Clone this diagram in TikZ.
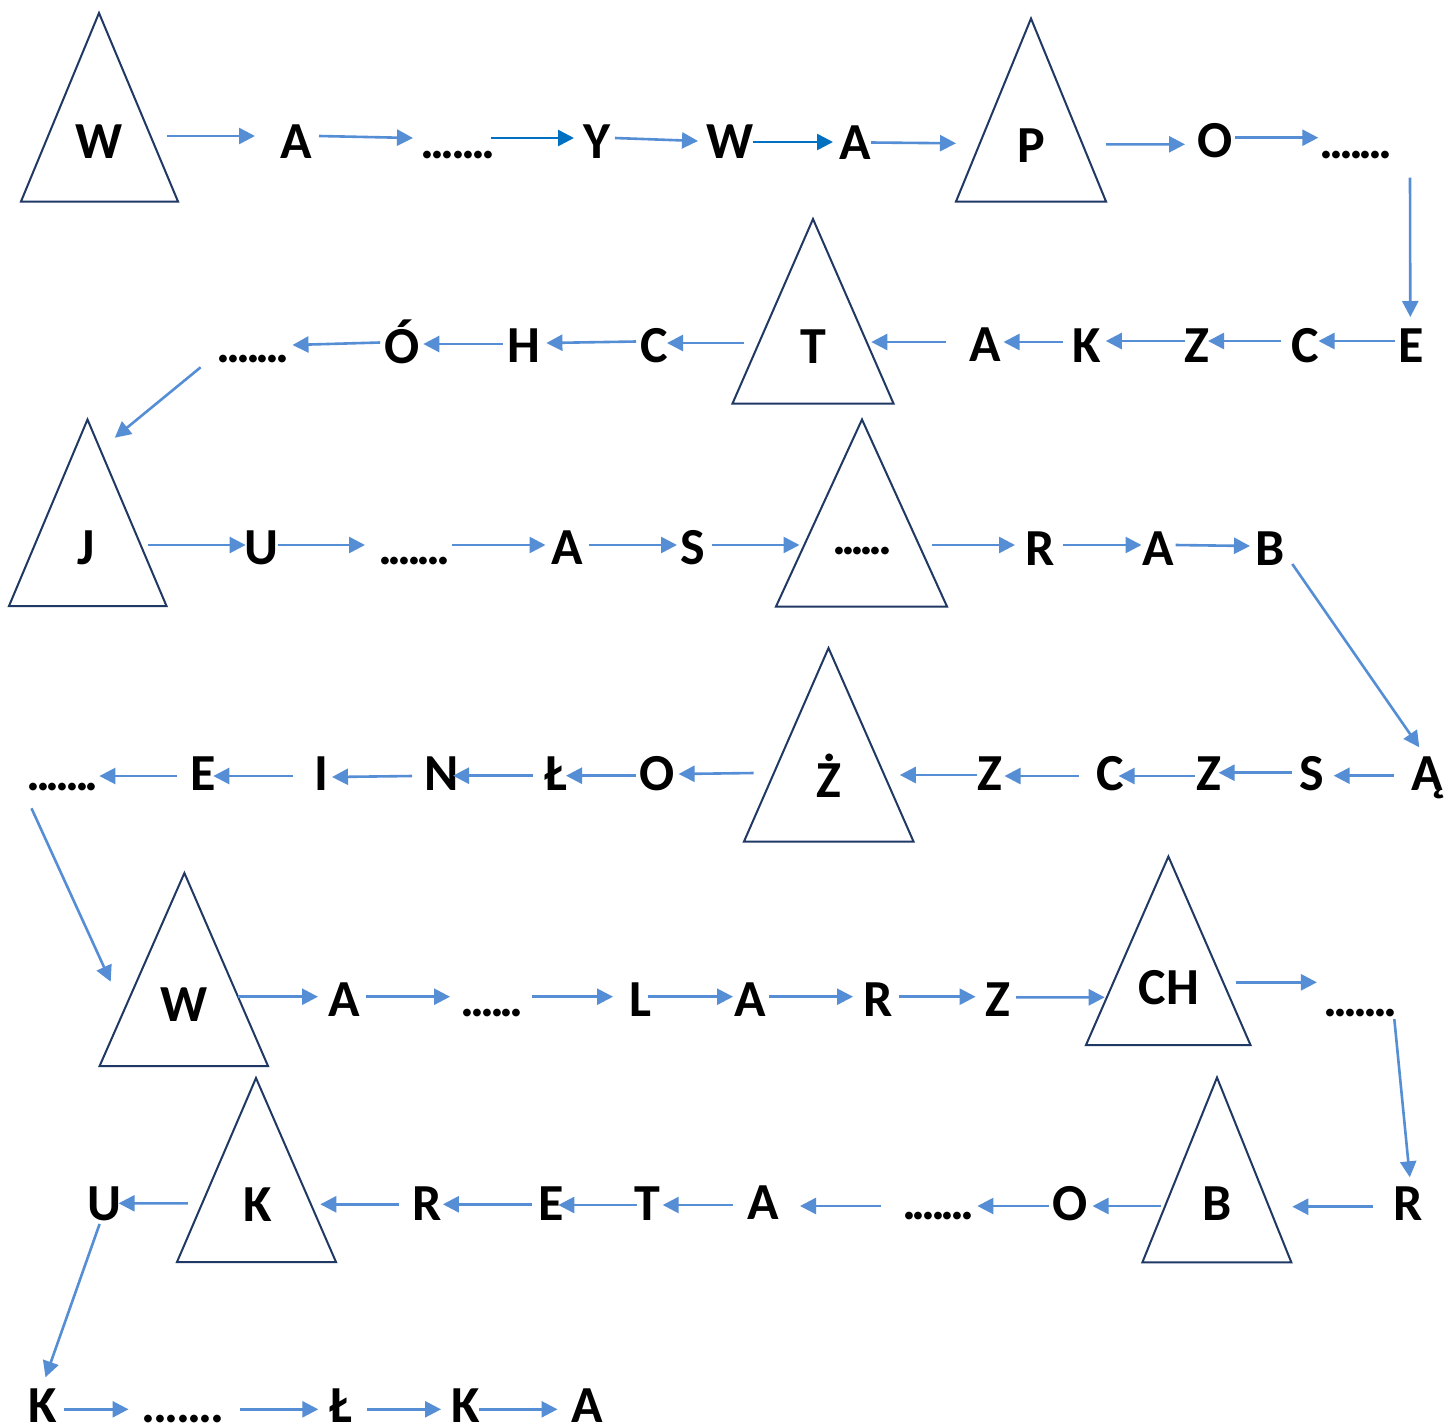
\documentclass[tikz,border=0pt]{standalone}
\usepackage{fontspec}
\setmainfont{Carlito}
\usetikzlibrary{arrows.meta}
\definecolor{arrowblue}{HTML}{558ED5}
\definecolor{darkarrow}{HTML}{0070C0}
\definecolor{trinavy}{HTML}{1F3864}
\newcommand\sevdots[1]{\hbox to #1{.\hss.\hss.\hss.\hss.\hss.\hss.}}
\newcommand\sixdots[1]{\hbox to #1{.\hss.\hss.\hss.\hss.\hss.}}
\begin{document}
\begin{tikzpicture}[x=0.5pt,y=-0.5pt,
  lbl/.style={inner sep=0pt, outer sep=0pt, text height=17pt, text depth=0pt, font=\fontsize{26}{28}\selectfont\bfseries},
  arr/.style={draw=arrowblue, line width=1.3pt, -{Triangle[length=8pt,width=8pt]}},
  darr/.style={arr, draw=darkarrow},
  tri/.style={draw=trinavy, line width=1pt, line join=miter}]
\fill[white] (0,0) rectangle (1446,1425);
\useasboundingbox (0,0) rectangle (1446,1425);

% ---------- triangles ----------
\coordinate (W1a) at (99,13);      \coordinate (W1b) at (178,201.5);   \coordinate (W1c) at (21,201.5);
\coordinate (Pa) at (1031,18.5);   \coordinate (Pb) at (1106,201.5);   \coordinate (Pc) at (956,201.5);
\coordinate (Ta) at (813,219);     \coordinate (Tb) at (893.5,403.5);  \coordinate (Tc) at (732.5,403.5);
\coordinate (Ja) at (87.5,419.5);  \coordinate (Jb) at (166.5,606);    \coordinate (Jc) at (9,606);
\coordinate (Da) at (862,419.5);   \coordinate (Db) at (947,606.5);    \coordinate (Dc) at (776,606.5);
\coordinate (Za) at (828.5,648);   \coordinate (Zb) at (913.5,841.5);  \coordinate (Zc) at (744,841.5);
\coordinate (W2a) at (184.4,873);  \coordinate (W2b) at (268,1066);    \coordinate (W2c) at (99.6,1066);
\coordinate (CHa) at (1168.4,856.5); \coordinate (CHb) at (1250.5,1045); \coordinate (CHc) at (1086,1045);
\coordinate (Ba) at (1217,1077.5); \coordinate (Bb) at (1291.3,1262.3); \coordinate (Bc) at (1142.4,1262.3);
\coordinate (Ka) at (256,1078);    \coordinate (Kb) at (336,1262);     \coordinate (Kc) at (177,1262);
\draw[tri] (W1a) -- (W1b) -- (W1c) -- cycle;
\draw[tri] (Pa) -- (Pb) -- (Pc) -- cycle;
\draw[tri] (Ta) -- (Tb) -- (Tc) -- cycle;
\draw[tri] (Ja) -- (Jb) -- (Jc) -- cycle;
\draw[tri] (Da) -- (Db) -- (Dc) -- cycle;
\draw[tri] (Za) -- (Zb) -- (Zc) -- cycle;
\draw[tri] (W2a) -- (W2b) -- (W2c) -- cycle;
\draw[tri] (CHa) -- (CHb) -- (CHc) -- cycle;
\draw[tri] (Ba) -- (Bb) -- (Bc) -- cycle;
\draw[tri] (Ka) -- (Kb) -- (Kc) -- cycle;

% ---------- row 1 ----------
\node[lbl] (trW1) at (99.5,141) {W};
\node[lbl] (r1A)  at (296,141) {A};
\node[lbl] (r1d)  at (458,141) {\sevdots{37.7pt}};
\node[lbl] (r1Y)  at (597,141) {Y};
\node[lbl] (r1W)  at (730,141) {W};
\node[lbl] (r1A2) at (855,142) {A};
\node[lbl] (trP)  at (1031.5,145) {P};
\node[lbl] (r1O)  at (1215,140) {O};
\node[lbl] (r1d2) at (1356,141) {\sevdots{36.4pt}};
% ---------- row 2 ----------
\node[lbl] (r2E)  at (1411,345) {E};
\node[lbl] (r2C)  at (1305,345) {C};
\node[lbl] (r2Z)  at (1196.6,345) {Z};
\node[lbl] (r2K)  at (1086.6,345) {K};
\node[lbl] (r2A)  at (985,344) {A};
\node[lbl] (trT)  at (813,346) {T};
\node[lbl] (r2C2) at (654,345) {C};
\node[lbl] (r2H)  at (524,345) {H};
\node[lbl] (r2O)  at (402,346) {Ó};
\node[lbl] (r2d)  at (253,345) {\sevdots{36.5pt}};
% ---------- row 3 ----------
\node[lbl] (trJ)  at (86,547) {J};
\node[lbl] (r3U)  at (261,547) {U};
\node[lbl] (r3d)  at (414,547) {\sevdots{36pt}};
\node[lbl] (r3A)  at (567.5,547) {A};
\node[lbl] (r3S)  at (693,547) {S};
\node[lbl] (trD)  at (862,537) {\sixdots{30pt}};
\node[lbl] (r3R)  at (1040,548) {R};
\node[lbl] (r3A2) at (1158,548) {A};
\node[lbl] (r3B)  at (1270,548) {B};
% ---------- row 4 ----------
\node[lbl] (r4A)  at (1427,773) {Ą};
\node[lbl] (r4S)  at (1312,773) {S};
\node[lbl] (r4Z)  at (1209,773) {Z};
\node[lbl] (r4C)  at (1110,773) {C};
\node[lbl] (r4Z2) at (990,773) {Z};
\node[lbl] (trZ)  at (829,780) {Ż};
\node[lbl] (r4O)  at (657.5,773) {O};
\node[lbl] (r4L)  at (556,773) {Ł};
\node[lbl] (r4N)  at (442,773) {N};
\node[lbl] (r4I)  at (321,773) {I};
\node[lbl] (r4E)  at (203.5,773) {E};
\node[lbl] (r4d)  at (62.5,773) {\sevdots{36.2pt}};
% ---------- row 5 ----------
\node[lbl] (trW2) at (184.5,1004) {W};
\node[lbl] (r5A)  at (344.5,999) {A};
\node[lbl] (r5d)  at (492,999) {\sixdots{31.7pt}};
\node[lbl] (r5L)  at (640,999) {L};
\node[lbl] (r5A2) at (750,999) {A};
\node[lbl] (r5R)  at (878,999) {R};
\node[lbl] (r5Z)  at (998,999) {Z};
\node[lbl] (trCH) at (1169,987) {CH};
\node[lbl] (r5d2) at (1360,999) {\sevdots{36.9pt}};
% ---------- row 6 ----------
\node[lbl] (r6R)  at (1407.7,1203) {R};
\node[lbl] (trB)  at (1217.4,1203) {B};
\node[lbl] (r6O)  at (1070,1203) {O};
\node[lbl] (r6d)  at (938,1202) {\sevdots{35.9pt}};
\node[lbl] (r6A)  at (763,1202) {A};
\node[lbl] (r6T)  at (647,1203) {T};
\node[lbl] (r6E)  at (551,1203) {E};
\node[lbl] (r6R2) at (427.5,1203) {R};
\node[lbl] (trK)  at (257.7,1204) {K};
\node[lbl] (r6U)  at (104.4,1203) {U};
% ---------- row 7 ----------
\node[lbl] (r7K)  at (42.5,1405) {K};
\node[lbl] (r7d)  at (183,1405) {\sevdots{41.3pt}};
\node[lbl] (r7L)  at (341,1405) {Ł};
\node[lbl] (r7K2) at (466,1405) {K};
\node[lbl] (r7A)  at (587,1405) {A};

% ---------- connectors row 1 ----------
\draw[arr]  ([shift={(67.5,-5)}]trW1.center) -- ([shift={(-41,-5)}]r1A.center);
\draw[arr]  ([shift={(23,-5)}]r1A.center) -- ([shift={(-45,-3)}]r1d.center);
\draw[darr] ([shift={(33,-3)}]r1d.center) -- ([shift={(-23,-3)}]r1Y.center);
\draw[arr]  ([shift={(18,-3)}]r1Y.center) -- ([shift={(-32,0)}]r1W.center);
\draw[darr] ([shift={(23,1)}]r1W.center) -- ([shift={(-22,0)}]r1A2.center);
\draw[arr]  ([shift={(16,0.5)}]r1A2.center) -- ([shift={(-75.5,-1.7)}]trP.center);
\draw[arr]  ([shift={(74.5,-0.7)}]trP.center) -- ([shift={(-30,4.3)}]r1O.center);
\draw[arr]  ([shift={(20,-2.3)}]r1O.center) -- ([shift={(-37.7,-3.3)}]r1d2.center);
\draw[arr]  ([shift={(54,36.7)}]r1d2.center) -- ([shift={(-0.7,-28)}]r2E.center);
% ---------- connectors row 2 ----------
\draw[arr]  ([shift={(-16.4,-4)}]r2E.center) -- ([shift={(13.5,-4)}]r2C.center);
\draw[arr]  ([shift={(-23.6,-4)}]r2C.center) -- ([shift={(11.4,-4)}]r2Z.center);
\draw[arr]  ([shift={(-11.3,-4)}]r2Z.center) -- ([shift={(19.2,-4)}]r2K.center);
\draw[arr]  ([shift={(-24.1,-3)}]r2K.center) -- ([shift={(18.5,-2)}]r2A.center);
\draw[arr]  ([shift={(-38.6,-2)}]r2A.center) -- ([shift={(58.3,-4)}]trT.center);
\draw[arr]  ([shift={(-69.2,-3)}]trT.center) -- ([shift={(13,-2)}]r2C2.center);
\draw[arr]  ([shift={(-18,-3.5)}]r2C2.center) -- ([shift={(22.4,-2)}]r2H.center);
\draw[arr]  ([shift={(-21.2,-1)}]r2H.center) -- ([shift={(21.3,-2)}]r2O.center);
\draw[arr]  ([shift={(-21.8,-3.5)}]r2O.center) -- ([shift={(39.5,0)}]r2d.center);
\draw[arr]  ([shift={(-52.4,22.3)}]r2d.center) -- ([shift={(28.8,-109.3)}]trJ.center);
% ---------- connectors row 3 ----------
\draw[arr]  ([shift={(61.8,-2)}]trJ.center) -- ([shift={(-15.4,-2)}]r3U.center);
\draw[arr]  ([shift={(16.8,-2)}]r3U.center) -- ([shift={(-49,-2)}]r3d.center);
\draw[arr]  ([shift={(38,-2)}]r3d.center) -- ([shift={(-22,-2)}]r3A.center);
\draw[arr]  ([shift={(21.1,-2)}]r3A.center) -- ([shift={(-16,-2)}]r3S.center);
\draw[arr]  ([shift={(18.9,-2)}]r3S.center) -- ([shift={(-62.5,8)}]trD.center);
\draw[arr]  ([shift={(70.2,8)}]trD.center) -- ([shift={(-25,-3)}]r3R.center);
\draw[arr]  ([shift={(23,-3)}]r3R.center) -- ([shift={(-16.5,-3)}]r3A2.center);
\draw[arr]  ([shift={(17.7,-3)}]r3A2.center) -- ([shift={(-20,-2)}]r3B.center);
\draw[arr]  ([shift={(22.3,16)}]r3B.center) -- ([shift={(-7.7,-25.7)}]r4A.center);
% ---------- connectors row 4 ----------
\draw[arr]  ([shift={(-33.4,2.7)}]r4A.center) -- ([shift={(21.7,2.7)}]r4S.center);
\draw[arr]  ([shift={(-19.7,-0.3)}]r4S.center) -- ([shift={(9.6,-0.3)}]r4Z.center);
\draw[arr]  ([shift={(-14.2,3)}]r4Z.center) -- ([shift={(8.6,3)}]r4C.center);
\draw[arr]  ([shift={(-30.8,3)}]r4C.center) -- ([shift={(14.5,3)}]r4Z2.center);
\draw[arr]  ([shift={(-12.6,2)}]r4Z2.center) -- ([shift={(70.8,-5)}]trZ.center);
\draw[arr]  ([shift={(-75.3,-7)}]trZ.center) -- ([shift={(21.1,1)}]r4O.center);
\draw[arr]  ([shift={(-21.5,2.7)}]r4O.center) -- ([shift={(10,2.7)}]r4L.center);
\draw[arr]  ([shift={(-23,2.7)}]r4L.center) -- ([shift={(11,2.7)}]r4N.center);
\draw[arr]  ([shift={(-30,3)}]r4N.center) -- ([shift={(11,4)}]r4I.center);
\draw[arr]  ([shift={(-27.7,3)}]r4I.center) -- ([shift={(9.8,3)}]r4E.center);
\draw[arr]  ([shift={(-26.5,3)}]r4E.center) -- ([shift={(36.9,3)}]r4d.center);
\draw[arr]  ([shift={(-31,35.3)}]r4d.center) -- ([shift={(-73.8,-22.3)}]trW2.center);
% ---------- connectors row 5 ----------
\draw[arr]  ([shift={(53.5,-7.3)}]trW2.center) -- ([shift={(-26.5,-2.3)}]r5A.center);
\draw[arr]  ([shift={(21.5,-2.3)}]r5A.center) -- ([shift={(-42,-2.3)}]r5d.center);
\draw[arr]  ([shift={(40,-2.3)}]r5d.center) -- ([shift={(-27,-2.3)}]r5L.center);
\draw[arr]  ([shift={(8,-2.3)}]r5L.center) -- ([shift={(-17,-2.3)}]r5A2.center);
\draw[arr]  ([shift={(19,-2.3)}]r5A2.center) -- ([shift={(-25,-2.3)}]r5R.center);
\draw[arr]  ([shift={(21,-2.3)}]r5R.center) -- ([shift={(-22.4,-2.3)}]r5Z.center);
\draw[arr]  ([shift={(18,-1.7)}]r5Z.center) -- ([shift={(-64.3,10.3)}]trCH.center);
\draw[arr]  ([shift={(66.7,-4.7)}]trCH.center) -- ([shift={(-43.1,-16.7)}]r5d2.center);
\draw[arr]  ([shift={(34.3,20)}]r5d2.center) -- ([shift={(2.1,-25.7)}]r6R.center);
% ---------- connectors row 6 ----------
\draw[arr]  ([shift={(-34.5,3.7)}]r6R.center) -- ([shift={(74.9,3.7)}]trB.center);
\draw[arr]  ([shift={(-56.9,3)}]trB.center) -- ([shift={(22.5,3)}]r6O.center);
\draw[arr]  ([shift={(-21.3,3)}]r6O.center) -- ([shift={(39.4,4)}]r6d.center);
\draw[arr]  ([shift={(-57.2,4)}]r6d.center) -- ([shift={(37,4)}]r6A.center);
\draw[arr]  ([shift={(-30.3,3)}]r6A.center) -- ([shift={(15.7,2)}]r6T.center);
\draw[arr]  ([shift={(-10.3,2)}]r6T.center) -- ([shift={(7.3,2)}]r6E.center);
\draw[arr]  ([shift={(-19.2,1.3)}]r6E.center) -- ([shift={(15.4,1.3)}]r6R2.center);
\draw[arr]  ([shift={(-28.9,1.3)}]r6R2.center) -- ([shift={(62.6,0.3)}]trK.center);
\draw[arr]  ([shift={(-69.9,-0.7)}]trK.center) -- ([shift={(14.2,0.3)}]r6U.center);
\draw[arr]  ([shift={(-4.8,21)}]r6U.center) -- ([shift={(3,-27.7)}]r7K.center);
% ---------- connectors row 7 ----------
\draw[arr]  ([shift={(21.5,4.3)}]r7K.center) -- ([shift={(-54.5,4.3)}]r7d.center);
\draw[arr]  ([shift={(57,4.3)}]r7d.center) -- ([shift={(-22.7,4.3)}]r7L.center);
\draw[arr]  ([shift={(26,4.3)}]r7L.center) -- ([shift={(-25,4.3)}]r7K2.center);
\draw[arr]  ([shift={(13,4.3)}]r7K2.center) -- ([shift={(-29.5,4.3)}]r7A.center);
\end{tikzpicture}
\end{document}
